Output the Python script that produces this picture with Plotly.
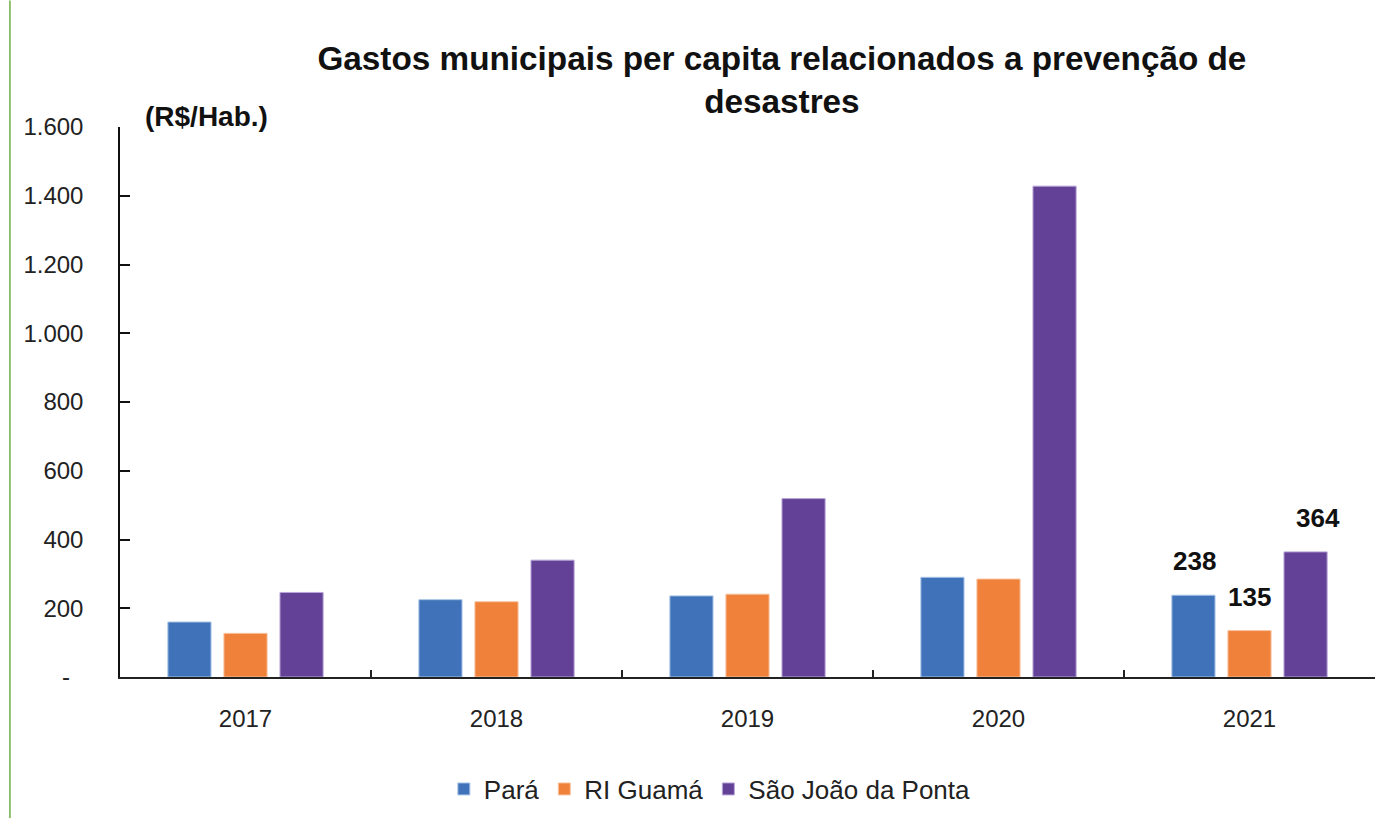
import plotly.graph_objects as go

years = ["2017", "2018", "2019", "2020", "2021"]
para = [160, 225, 236, 290, 238]
ri_guama = [127, 219, 241, 285, 135]
sao_joao = [246, 340, 519, 1428, 364]
series_names = ["Pará", "RI Guamá", "São João da Ponta"]
colors = ["#3F72B8", "#F0813A", "#634197"]
line_colors = ["#A9C4E8", "#F8C3A0", "#B9A6D8"]
y_ticks = [0, 200, 400, 600, 800, 1000, 1200, 1400, 1600]
y_ticktext = ["-\u00a0\u00a0", "200", "400", "600", "800", "1.000", "1.200", "1.400", "1.600"]

FONT = "Liberation Sans Narrow, Arial Narrow, Liberation Sans, Arial, sans-serif"

fig = go.Figure()
for name, vals, c, lc in zip(series_names, [para, ri_guama, sao_joao], colors, line_colors):
    fig.add_trace(go.Bar(x=years, y=vals, name=name,
                         marker=dict(color=c, line=dict(color=lc, width=1))))

# data labels for last year (category index of last year)
last_idx = len(years) - 1
shifts = [-55, 0, 68]
for vals, xs in zip([para, ri_guama, sao_joao], shifts):
    fig.add_annotation(x=last_idx, y=vals[-1], text=f"<b>{vals[-1]}</b>",
                       showarrow=False, xref="x", yref="y", xshift=xs, yshift=34,
                       font=dict(family=FONT, size=26, color="#111"))

fig.add_annotation(text="<b>(R$/Hab.)</b>", xref="paper", yref="paper",
                   x=0.018, y=1.0, xanchor="left", yanchor="middle", yshift=11,
                   showarrow=False, font=dict(family=FONT, size=28, color="#111"))

fig.add_shape(type="line", xref="paper", yref="paper", x0=-0.0877, x1=-0.0877,
              y0=-0.26, y1=1.23, line=dict(color="#70AD47", width=1.5))

fig.update_layout(
    width=1379, height=818,
    margin=dict(l=120, r=4, t=127, b=141, autoexpand=False),
    paper_bgcolor="white", plot_bgcolor="white",
    barmode="group", bargap=0.33, bargroupgap=0.23,
    title=dict(text="<b>Gastos municipais per capita relacionados a prevenção de<br>desastres</b>",
               x=0.567, xanchor="center", y=0.915, yanchor="top",
               font=dict(family=FONT, size=33.3, color="#111")),
    font=dict(family=FONT, size=24, color="#222"),
    legend=dict(orientation="h", x=0.47, xanchor="center", y=-0.161, yanchor="top",
                font=dict(family=FONT, size=26, color="#222"), itemwidth=30,
                traceorder="normal"),
    showlegend=True,
)
fig.update_yaxes(range=[0, 1600], tickvals=y_ticks, ticktext=y_ticktext,
                 showgrid=False, zeroline=False, showline=True, linecolor="#111", linewidth=1.5,
                 ticks="inside", ticklen=10, tickcolor="#111", tickwidth=1.5,
                 ticklabelstandoff=30, tickfont=dict(family=FONT, size=24, color="#222"))
fig.update_xaxes(type="category", categoryorder="array", categoryarray=years,
                 showgrid=False, showline=True, linecolor="#222", linewidth=1.5,
                 ticks="inside", tickson="boundaries", ticklen=7, tickcolor="#222", tickwidth=1.5,
                 tickangle=0, ticklabelstandoff=19, tickfont=dict(family=FONT, size=24, color="#222"))

fig.write_html("out.html", config={"displayModeBar": False},
               post_script="document.body.style.margin='0px';")
